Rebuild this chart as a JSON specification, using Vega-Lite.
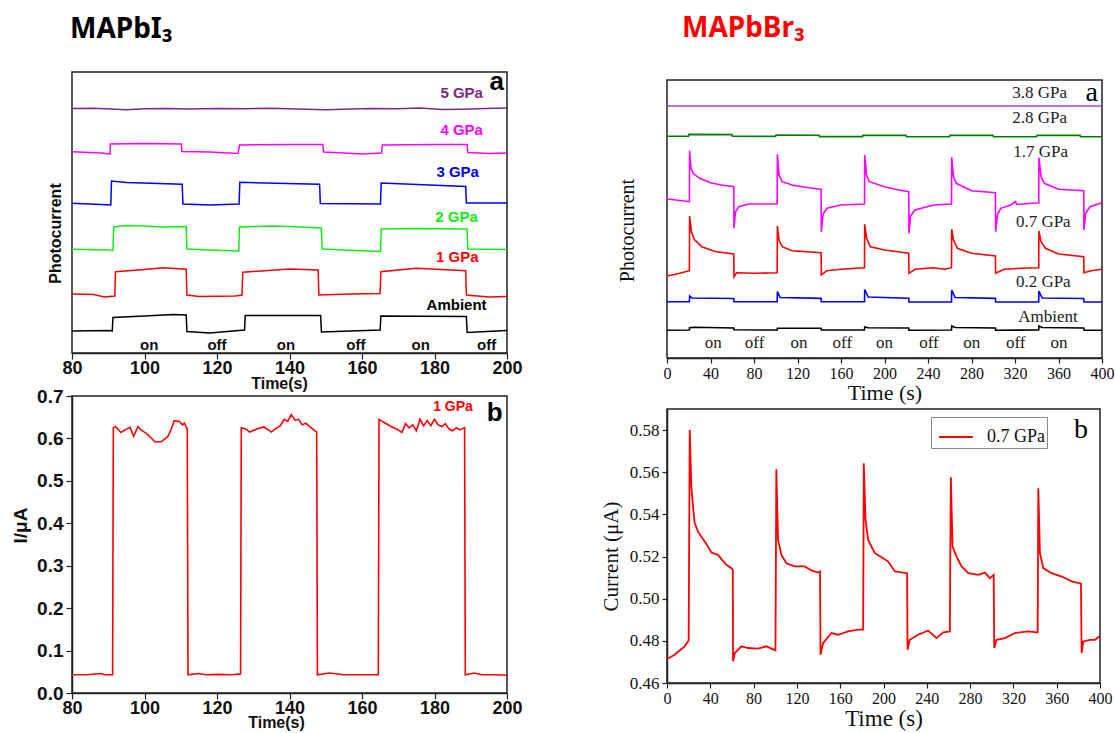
{
"$schema": "https://vega.github.io/schema/vega-lite/v6.json",
"background": "white",
"padding": {"left": 10, "top": 14, "right": 0, "bottom": 0},
"config": {"view": {"stroke": "#222", "strokeWidth": 1.5}, "axis": {"grid": false, "domainColor": "#222", "tickColor": "#222", "labelColor": "#111", "titleColor": "#111", "domainWidth": 1.5, "tickWidth": 1.2}},
"resolve": {"scale": {"x": "independent", "y": "independent", "color": "independent"}},
"spacing": 76,
"datasets": {
"tl": [
{"s":"5 GPa","t":80,"v":244.5},{"s":"5 GPa","t":86,"v":244.8},{"s":"5 GPa","t":92,"v":243.8},{"s":"5 GPa","t":95,"v":243.2},{"s":"5 GPa","t":100,"v":244.3},{"s":"5 GPa","t":106,"v":244.6},{"s":"5 GPa","t":112,"v":244},{"s":"5 GPa","t":120,"v":244.6},{"s":"5 GPa","t":128,"v":244.2},{"s":"5 GPa","t":135,"v":244.8},{"s":"5 GPa","t":142,"v":244.1},{"s":"5 GPa","t":150,"v":243.2},{"s":"5 GPa","t":157,"v":244},{"s":"5 GPa","t":163,"v":244.6},{"s":"5 GPa","t":170,"v":244.2},{"s":"5 GPa","t":176,"v":244.9},{"s":"5 GPa","t":182,"v":243.6},{"s":"5 GPa","t":188,"v":243.8},{"s":"5 GPa","t":194,"v":244.4},{"s":"5 GPa","t":200,"v":245},
{"s":"4 GPa","t":80,"v":201.3},{"s":"4 GPa","t":88,"v":200},{"s":"4 GPa","t":90.5,"v":199},{"s":"4 GPa","t":90.6,"v":209},{"s":"4 GPa","t":100,"v":209.5},{"s":"4 GPa","t":110.2,"v":209},{"s":"4 GPa","t":110.3,"v":201.5},{"s":"4 GPa","t":118,"v":201},{"s":"4 GPa","t":125.8,"v":199.5},{"s":"4 GPa","t":126.2,"v":208},{"s":"4 GPa","t":140,"v":208.5},{"s":"4 GPa","t":149.2,"v":208.5},{"s":"4 GPa","t":149.4,"v":201},{"s":"4 GPa","t":155,"v":200},{"s":"4 GPa","t":160,"v":199},{"s":"4 GPa","t":165.4,"v":200},{"s":"4 GPa","t":165.6,"v":208},{"s":"4 GPa","t":180,"v":208.5},{"s":"4 GPa","t":189,"v":208.5},{"s":"4 GPa","t":189.2,"v":200.5},{"s":"4 GPa","t":195,"v":199.5},{"s":"4 GPa","t":200,"v":200},
{"s":"3 GPa","t":80,"v":149.7},{"s":"3 GPa","t":88,"v":148.5},{"s":"3 GPa","t":90.7,"v":148},{"s":"3 GPa","t":90.9,"v":172},{"s":"3 GPa","t":95,"v":170.5},{"s":"3 GPa","t":110.4,"v":168.7},{"s":"3 GPa","t":110.6,"v":149},{"s":"3 GPa","t":118,"v":148},{"s":"3 GPa","t":126.1,"v":149},{"s":"3 GPa","t":126.3,"v":170.7},{"s":"3 GPa","t":148.3,"v":168.7},{"s":"3 GPa","t":148.5,"v":149.5},{"s":"3 GPa","t":165.1,"v":149},{"s":"3 GPa","t":165.3,"v":170},{"s":"3 GPa","t":188.6,"v":166.5},{"s":"3 GPa","t":188.8,"v":150},{"s":"3 GPa","t":200,"v":150},
{"s":"2 GPa","t":80,"v":103.7},{"s":"2 GPa","t":90,"v":103},{"s":"2 GPa","t":91.3,"v":102.5},{"s":"2 GPa","t":91.5,"v":126},{"s":"2 GPa","t":95,"v":127.5},{"s":"2 GPa","t":100,"v":127},{"s":"2 GPa","t":105,"v":126},{"s":"2 GPa","t":111.5,"v":126.5},{"s":"2 GPa","t":111.7,"v":104},{"s":"2 GPa","t":118,"v":103},{"s":"2 GPa","t":126,"v":102},{"s":"2 GPa","t":126.2,"v":126},{"s":"2 GPa","t":135,"v":127},{"s":"2 GPa","t":140,"v":126.5},{"s":"2 GPa","t":148.8,"v":125},{"s":"2 GPa","t":149,"v":104},{"s":"2 GPa","t":155,"v":103},{"s":"2 GPa","t":165.1,"v":101.5},{"s":"2 GPa","t":165.3,"v":124},{"s":"2 GPa","t":175,"v":124.5},{"s":"2 GPa","t":189,"v":124},{"s":"2 GPa","t":189.2,"v":104},{"s":"2 GPa","t":200,"v":103.5},
{"s":"1 GPa","t":80,"v":59},{"s":"1 GPa","t":86,"v":58.5},{"s":"1 GPa","t":89,"v":56},{"s":"1 GPa","t":91.8,"v":57},{"s":"1 GPa","t":92,"v":81.3},{"s":"1 GPa","t":100,"v":83.5},{"s":"1 GPa","t":105,"v":85.3},{"s":"1 GPa","t":111.5,"v":83.7},{"s":"1 GPa","t":111.7,"v":58},{"s":"1 GPa","t":115,"v":56.5},{"s":"1 GPa","t":125,"v":57},{"s":"1 GPa","t":126.9,"v":58},{"s":"1 GPa","t":127.1,"v":80.7},{"s":"1 GPa","t":140,"v":84},{"s":"1 GPa","t":147.9,"v":83},{"s":"1 GPa","t":148.1,"v":58},{"s":"1 GPa","t":157,"v":59},{"s":"1 GPa","t":165,"v":59.5},{"s":"1 GPa","t":165.2,"v":81.3},{"s":"1 GPa","t":175,"v":84.7},{"s":"1 GPa","t":188.6,"v":82.3},{"s":"1 GPa","t":188.8,"v":58},{"s":"1 GPa","t":195,"v":56},{"s":"1 GPa","t":200,"v":56.5},
{"s":"Ambient","t":80,"v":22},{"s":"Ambient","t":90,"v":22.5},{"s":"Ambient","t":91.1,"v":22},{"s":"Ambient","t":91.3,"v":35.5},{"s":"Ambient","t":100,"v":37},{"s":"Ambient","t":108,"v":38.5},{"s":"Ambient","t":111.5,"v":38},{"s":"Ambient","t":111.7,"v":21.5},{"s":"Ambient","t":118,"v":20},{"s":"Ambient","t":127.6,"v":23},{"s":"Ambient","t":127.8,"v":37.5},{"s":"Ambient","t":148.6,"v":37.5},{"s":"Ambient","t":148.8,"v":21},{"s":"Ambient","t":165,"v":23},{"s":"Ambient","t":165.2,"v":37},{"s":"Ambient","t":188.8,"v":36.5},{"s":"Ambient","t":189,"v":20.5},{"s":"Ambient","t":200,"v":22.5}
],
"tllab": [
{"s":"5 GPa","t":187.5,"v":260.3},{"s":"4 GPa","t":187.5,"v":223},{"s":"3 GPa","t":186.4,"v":181.3},{"s":"2 GPa","t":186.1,"v":136.3},{"s":"1 GPa","t":186.3,"v":95.7},{"s":"Ambient","t":186.1,"v":48}
],
"tlnote": [
{"label":"on","t":101.3,"v":8},{"label":"off","t":120,"v":8},{"label":"on","t":139,"v":8},{"label":"off","t":158.3,"v":8},{"label":"on","t":176.2,"v":8},{"label":"off","t":194.4,"v":8}
],
"bl": [
{"t":80,"i":0.043},{"t":84,"i":0.043},{"t":88,"i":0.046},{"t":89,"i":0.043},{"t":91.2,"i":0.043},{"t":91.4,"i":0.625},{"t":92,"i":0.628},{"t":93.5,"i":0.614},{"t":95,"i":0.622},{"t":96,"i":0.626},{"t":97,"i":0.605},{"t":98.2,"i":0.628},{"t":99,"i":0.62},{"t":100.5,"i":0.612},{"t":102,"i":0.6},{"t":102.8,"i":0.592},{"t":104.6,"i":0.592},{"t":106.4,"i":0.604},{"t":107.3,"i":0.62},{"t":108.2,"i":0.642},{"t":109.6,"i":0.64},{"t":110.5,"i":0.632},{"t":111,"i":0.636},{"t":111.8,"i":0.622},{"t":112,"i":0.043},{"t":115,"i":0.046},{"t":117,"i":0.043},{"t":120,"i":0.044},{"t":124,"i":0.043},{"t":126.5,"i":0.045},{"t":126.7,"i":0.625},{"t":128,"i":0.622},{"t":129,"i":0.615},{"t":131,"i":0.622},{"t":133,"i":0.627},{"t":135,"i":0.615},{"t":136,"i":0.622},{"t":137.5,"i":0.63},{"t":138.5,"i":0.645},{"t":139.5,"i":0.64},{"t":140.5,"i":0.656},{"t":141.5,"i":0.643},{"t":142.5,"i":0.645},{"t":143.5,"i":0.632},{"t":144.5,"i":0.636},{"t":146,"i":0.625},{"t":147.5,"i":0.615},{"t":147.7,"i":0.043},{"t":151,"i":0.047},{"t":155,"i":0.043},{"t":160,"i":0.043},{"t":164.5,"i":0.043},{"t":164.7,"i":0.645},{"t":166,"i":0.638},{"t":168,"i":0.628},{"t":170,"i":0.62},{"t":171,"i":0.614},{"t":172,"i":0.635},{"t":173,"i":0.625},{"t":174,"i":0.632},{"t":175,"i":0.618},{"t":176,"i":0.645},{"t":177,"i":0.63},{"t":178,"i":0.642},{"t":179,"i":0.63},{"t":180,"i":0.645},{"t":181,"i":0.632},{"t":182,"i":0.628},{"t":183,"i":0.635},{"t":184,"i":0.622},{"t":185,"i":0.618},{"t":186,"i":0.625},{"t":187,"i":0.62},{"t":188.3,"i":0.625},{"t":188.5,"i":0.043},{"t":191,"i":0.047},{"t":193,"i":0.043},{"t":197,"i":0.043},{"t":200,"i":0.042}
],
"blnote": [
{"label":"1 GPa","t":185.1,"i":0.675}
],
"blb": [
{"label":"b","t":196.6,"i":0.66}
],
"tr": [
{"s":"3.8 GPa","t":0,"v":252},{"s":"3.8 GPa","t":100,"v":252},{"s":"3.8 GPa","t":200,"v":252},{"s":"3.8 GPa","t":300,"v":252},{"s":"3.8 GPa","t":400,"v":252},
{"s":"2.8 GPa","t":0,"v":221.8},{"s":"2.8 GPa","t":19.8,"v":221.8},{"s":"2.8 GPa","t":20.2,"v":223.6},{"s":"2.8 GPa","t":59.8,"v":223.4},{"s":"2.8 GPa","t":60.2,"v":221.8},{"s":"2.8 GPa","t":99.8,"v":221.6},{"s":"2.8 GPa","t":100.2,"v":223},{"s":"2.8 GPa","t":139.8,"v":222.8},{"s":"2.8 GPa","t":140.2,"v":221.4},{"s":"2.8 GPa","t":179.8,"v":221.4},{"s":"2.8 GPa","t":180.2,"v":222.8},{"s":"2.8 GPa","t":219.8,"v":222.6},{"s":"2.8 GPa","t":220.2,"v":221.3},{"s":"2.8 GPa","t":259.8,"v":221.3},{"s":"2.8 GPa","t":260.2,"v":222.8},{"s":"2.8 GPa","t":299.8,"v":222.6},{"s":"2.8 GPa","t":300.2,"v":221.3},{"s":"2.8 GPa","t":339.8,"v":221.3},{"s":"2.8 GPa","t":340.2,"v":222.8},{"s":"2.8 GPa","t":379.8,"v":222.6},{"s":"2.8 GPa","t":380.2,"v":221.2},{"s":"2.8 GPa","t":400,"v":221.2},
{"s":"1.7 GPa","t":0,"v":159},{"s":"1.7 GPa","t":10,"v":157.7},{"s":"1.7 GPa","t":20.6,"v":156.3},{"s":"1.7 GPa","t":20.8,"v":207.3},{"s":"1.7 GPa","t":22,"v":190},{"s":"1.7 GPa","t":24,"v":184.7},{"s":"1.7 GPa","t":30,"v":179.7},{"s":"1.7 GPa","t":40,"v":175.3},{"s":"1.7 GPa","t":50,"v":173},{"s":"1.7 GPa","t":61.4,"v":171.3},{"s":"1.7 GPa","t":61.6,"v":129.7},{"s":"1.7 GPa","t":63,"v":146},{"s":"1.7 GPa","t":66,"v":151.3},{"s":"1.7 GPa","t":75,"v":154},{"s":"1.7 GPa","t":101.3,"v":154},{"s":"1.7 GPa","t":101.5,"v":203.7},{"s":"1.7 GPa","t":103,"v":183},{"s":"1.7 GPa","t":106,"v":176.3},{"s":"1.7 GPa","t":115,"v":173},{"s":"1.7 GPa","t":130,"v":170.3},{"s":"1.7 GPa","t":141.7,"v":168.7},{"s":"1.7 GPa","t":141.9,"v":126.3},{"s":"1.7 GPa","t":143.5,"v":144},{"s":"1.7 GPa","t":147,"v":149.7},{"s":"1.7 GPa","t":160,"v":153},{"s":"1.7 GPa","t":181.6,"v":154},{"s":"1.7 GPa","t":181.8,"v":203},{"s":"1.7 GPa","t":183.5,"v":183},{"s":"1.7 GPa","t":186,"v":176.3},{"s":"1.7 GPa","t":200,"v":171.3},{"s":"1.7 GPa","t":210,"v":168.7},{"s":"1.7 GPa","t":222.3,"v":166.3},{"s":"1.7 GPa","t":222.5,"v":124.7},{"s":"1.7 GPa","t":224,"v":142},{"s":"1.7 GPa","t":228,"v":148},{"s":"1.7 GPa","t":245,"v":153},{"s":"1.7 GPa","t":261.6,"v":154},{"s":"1.7 GPa","t":261.8,"v":200.7},{"s":"1.7 GPa","t":263.5,"v":181},{"s":"1.7 GPa","t":266,"v":174.7},{"s":"1.7 GPa","t":280,"v":167.3},{"s":"1.7 GPa","t":302,"v":165.3},{"s":"1.7 GPa","t":302.2,"v":126.3},{"s":"1.7 GPa","t":304,"v":144},{"s":"1.7 GPa","t":307,"v":149.7},{"s":"1.7 GPa","t":316,"v":153},{"s":"1.7 GPa","t":320.5,"v":156.5},{"s":"1.7 GPa","t":321.5,"v":153.5},{"s":"1.7 GPa","t":341.8,"v":155.3},{"s":"1.7 GPa","t":342,"v":200.3},{"s":"1.7 GPa","t":344,"v":181},{"s":"1.7 GPa","t":347,"v":174.7},{"s":"1.7 GPa","t":360,"v":168.7},{"s":"1.7 GPa","t":383.2,"v":167.3},{"s":"1.7 GPa","t":383.4,"v":128},{"s":"1.7 GPa","t":385,"v":145},{"s":"1.7 GPa","t":389,"v":151.3},{"s":"1.7 GPa","t":400,"v":155.3},
{"s":"0.7 GPa","t":0,"v":82},{"s":"0.7 GPa","t":10,"v":84.3},{"s":"0.7 GPa","t":20.6,"v":87.3},{"s":"0.7 GPa","t":20.8,"v":142},{"s":"0.7 GPa","t":22.5,"v":126},{"s":"0.7 GPa","t":25,"v":118.7},{"s":"0.7 GPa","t":32,"v":111.3},{"s":"0.7 GPa","t":45,"v":106.3},{"s":"0.7 GPa","t":61.4,"v":104},{"s":"0.7 GPa","t":61.6,"v":81.3},{"s":"0.7 GPa","t":64,"v":85.3},{"s":"0.7 GPa","t":80,"v":84.7},{"s":"0.7 GPa","t":101.3,"v":85.3},{"s":"0.7 GPa","t":101.5,"v":132},{"s":"0.7 GPa","t":103,"v":118},{"s":"0.7 GPa","t":106,"v":111.3},{"s":"0.7 GPa","t":115,"v":107.3},{"s":"0.7 GPa","t":141.7,"v":105.3},{"s":"0.7 GPa","t":141.9,"v":83},{"s":"0.7 GPa","t":147,"v":87.3},{"s":"0.7 GPa","t":160,"v":88.7},{"s":"0.7 GPa","t":181.6,"v":90.3},{"s":"0.7 GPa","t":181.8,"v":133.7},{"s":"0.7 GPa","t":183.5,"v":120},{"s":"0.7 GPa","t":187,"v":111.3},{"s":"0.7 GPa","t":200,"v":108},{"s":"0.7 GPa","t":222.3,"v":104.7},{"s":"0.7 GPa","t":222.5,"v":84.7},{"s":"0.7 GPa","t":228,"v":88.7},{"s":"0.7 GPa","t":245,"v":90.3},{"s":"0.7 GPa","t":255,"v":88.7},{"s":"0.7 GPa","t":261.6,"v":90.3},{"s":"0.7 GPa","t":261.8,"v":128.7},{"s":"0.7 GPa","t":263.5,"v":118},{"s":"0.7 GPa","t":267,"v":109.7},{"s":"0.7 GPa","t":280,"v":104.7},{"s":"0.7 GPa","t":302,"v":102},{"s":"0.7 GPa","t":302.2,"v":84.7},{"s":"0.7 GPa","t":310,"v":88.7},{"s":"0.7 GPa","t":325,"v":89.7},{"s":"0.7 GPa","t":341.8,"v":90.3},{"s":"0.7 GPa","t":342,"v":127},{"s":"0.7 GPa","t":344,"v":116},{"s":"0.7 GPa","t":348,"v":109.7},{"s":"0.7 GPa","t":360,"v":104},{"s":"0.7 GPa","t":383.2,"v":101.3},{"s":"0.7 GPa","t":383.4,"v":85.3},{"s":"0.7 GPa","t":390,"v":87.3},{"s":"0.7 GPa","t":400,"v":88.7},
{"s":"0.2 GPa","t":0,"v":56.3},{"s":"0.2 GPa","t":20.6,"v":56.3},{"s":"0.2 GPa","t":20.8,"v":62},{"s":"0.2 GPa","t":23,"v":60},{"s":"0.2 GPa","t":61.4,"v":59.5},{"s":"0.2 GPa","t":61.6,"v":56.2},{"s":"0.2 GPa","t":101.3,"v":56.2},{"s":"0.2 GPa","t":101.5,"v":66.5},{"s":"0.2 GPa","t":104,"v":60.5},{"s":"0.2 GPa","t":141.7,"v":59.6},{"s":"0.2 GPa","t":141.9,"v":56.2},{"s":"0.2 GPa","t":181.6,"v":56.2},{"s":"0.2 GPa","t":181.8,"v":68.5},{"s":"0.2 GPa","t":185,"v":61},{"s":"0.2 GPa","t":222.3,"v":59.8},{"s":"0.2 GPa","t":222.5,"v":56},{"s":"0.2 GPa","t":261.6,"v":56},{"s":"0.2 GPa","t":261.8,"v":68},{"s":"0.2 GPa","t":265,"v":60.5},{"s":"0.2 GPa","t":302,"v":59.6},{"s":"0.2 GPa","t":302.2,"v":56},{"s":"0.2 GPa","t":341.8,"v":56},{"s":"0.2 GPa","t":342,"v":67},{"s":"0.2 GPa","t":345,"v":60},{"s":"0.2 GPa","t":383.2,"v":59.5},{"s":"0.2 GPa","t":383.4,"v":56},{"s":"0.2 GPa","t":400,"v":56},
{"s":"Ambient","t":0,"v":27.8},{"s":"Ambient","t":20.6,"v":28},{"s":"Ambient","t":20.8,"v":30.2},{"s":"Ambient","t":25,"v":30.8},{"s":"Ambient","t":61.4,"v":30},{"s":"Ambient","t":61.6,"v":28.2},{"s":"Ambient","t":101.3,"v":28},{"s":"Ambient","t":101.5,"v":29.8},{"s":"Ambient","t":141.7,"v":29.8},{"s":"Ambient","t":141.9,"v":28},{"s":"Ambient","t":181.6,"v":28},{"s":"Ambient","t":181.8,"v":31},{"s":"Ambient","t":185,"v":30.2},{"s":"Ambient","t":222.3,"v":30},{"s":"Ambient","t":222.5,"v":27.8},{"s":"Ambient","t":261.6,"v":28},{"s":"Ambient","t":261.8,"v":32},{"s":"Ambient","t":265,"v":30.5},{"s":"Ambient","t":302,"v":30},{"s":"Ambient","t":302.2,"v":27.8},{"s":"Ambient","t":341.8,"v":28},{"s":"Ambient","t":342,"v":32},{"s":"Ambient","t":345,"v":30.5},{"s":"Ambient","t":383.2,"v":30},{"s":"Ambient","t":383.4,"v":27.8},{"s":"Ambient","t":400,"v":27.8}
],
"trlab": [
{"label":"3.8 GPa","t":342.7,"v":264.7},{"label":"2.8 GPa","t":342.7,"v":239.7},{"label":"1.7 GPa","t":343.6,"v":205.7},{"label":"0.7 GPa","t":346,"v":136.3},{"label":"0.2 GPa","t":346,"v":76.3},{"label":"Ambient","t":350.3,"v":41.3},
{"label":"on","t":42.6,"v":15.3},{"label":"off","t":80.5,"v":15.3},{"label":"on","t":121.4,"v":15.3},{"label":"off","t":161.2,"v":15.3},{"label":"on","t":200.1,"v":15.3},{"label":"off","t":240.9,"v":15.3},{"label":"on","t":280.2,"v":15.3},{"label":"off","t":320.6,"v":15.3},{"label":"on","t":360.5,"v":15.3}
],
"br": [
{"s":"0.7 GPa","t":0,"c":0.4714},{"s":"0.7 GPa","t":7,"c":0.4734},{"s":"0.7 GPa","t":16.3,"c":0.4774},{"s":"0.7 GPa","t":20,"c":0.4802},{"s":"0.7 GPa","t":21,"c":0.58},{"s":"0.7 GPa","t":22.5,"c":0.5532},{"s":"0.7 GPa","t":24,"c":0.5437},{"s":"0.7 GPa","t":25.6,"c":0.5358},{"s":"0.7 GPa","t":28.7,"c":0.5318},{"s":"0.7 GPa","t":34.8,"c":0.5271},{"s":"0.7 GPa","t":37.9,"c":0.5247},{"s":"0.7 GPa","t":41,"c":0.5219},{"s":"0.7 GPa","t":47.1,"c":0.5208},{"s":"0.7 GPa","t":50.8,"c":0.5184},{"s":"0.7 GPa","t":54.9,"c":0.5161},{"s":"0.7 GPa","t":59.5,"c":0.5145},{"s":"0.7 GPa","t":60.8,"c":0.5137},{"s":"0.7 GPa","t":61,"c":0.4703},{"s":"0.7 GPa","t":62.6,"c":0.4742},{"s":"0.7 GPa","t":68.7,"c":0.4774},{"s":"0.7 GPa","t":74.9,"c":0.4766},{"s":"0.7 GPa","t":84.1,"c":0.4763},{"s":"0.7 GPa","t":91.8,"c":0.4774},{"s":"0.7 GPa","t":100.2,"c":0.4755},{"s":"0.7 GPa","t":101,"c":0.5614},{"s":"0.7 GPa","t":102.6,"c":0.5279},{"s":"0.7 GPa","t":105.7,"c":0.5208},{"s":"0.7 GPa","t":110.3,"c":0.5168},{"s":"0.7 GPa","t":118,"c":0.5153},{"s":"0.7 GPa","t":127.3,"c":0.5153},{"s":"0.7 GPa","t":133.4,"c":0.5134},{"s":"0.7 GPa","t":139.6,"c":0.5124},{"s":"0.7 GPa","t":141.4,"c":0.5129},{"s":"0.7 GPa","t":141.8,"c":0.4734},{"s":"0.7 GPa","t":144.2,"c":0.4789},{"s":"0.7 GPa","t":151.9,"c":0.4837},{"s":"0.7 GPa","t":158.1,"c":0.4829},{"s":"0.7 GPa","t":167.3,"c":0.4845},{"s":"0.7 GPa","t":176.6,"c":0.4853},{"s":"0.7 GPa","t":181.2,"c":0.4853},{"s":"0.7 GPa","t":181.8,"c":0.5642},{"s":"0.7 GPa","t":183.4,"c":0.5374},{"s":"0.7 GPa","t":185.8,"c":0.5279},{"s":"0.7 GPa","t":192,"c":0.5216},{"s":"0.7 GPa","t":198.2,"c":0.5197},{"s":"0.7 GPa","t":204.3,"c":0.5176},{"s":"0.7 GPa","t":210.5,"c":0.5129},{"s":"0.7 GPa","t":221.8,"c":0.5121},{"s":"0.7 GPa","t":222.2,"c":0.4758},{"s":"0.7 GPa","t":224.3,"c":0.4805},{"s":"0.7 GPa","t":232,"c":0.4829},{"s":"0.7 GPa","t":241.3,"c":0.4849},{"s":"0.7 GPa","t":249,"c":0.4813},{"s":"0.7 GPa","t":255.2,"c":0.484},{"s":"0.7 GPa","t":261.3,"c":0.4845},{"s":"0.7 GPa","t":262.2,"c":0.5576},{"s":"0.7 GPa","t":263.8,"c":0.5247},{"s":"0.7 GPa","t":267.5,"c":0.52},{"s":"0.7 GPa","t":272.1,"c":0.5153},{"s":"0.7 GPa","t":278.3,"c":0.5121},{"s":"0.7 GPa","t":287.5,"c":0.5113},{"s":"0.7 GPa","t":293.7,"c":0.5124},{"s":"0.7 GPa","t":298.3,"c":0.5097},{"s":"0.7 GPa","t":301.8,"c":0.5113},{"s":"0.7 GPa","t":302.3,"c":0.4766},{"s":"0.7 GPa","t":304.5,"c":0.4805},{"s":"0.7 GPa","t":312.2,"c":0.4813},{"s":"0.7 GPa","t":321.4,"c":0.4837},{"s":"0.7 GPa","t":333.7,"c":0.4845},{"s":"0.7 GPa","t":342.4,"c":0.484},{"s":"0.7 GPa","t":343,"c":0.5524},{"s":"0.7 GPa","t":344.5,"c":0.5216},{"s":"0.7 GPa","t":347.6,"c":0.5145},{"s":"0.7 GPa","t":355.3,"c":0.5121},{"s":"0.7 GPa","t":364.6,"c":0.5105},{"s":"0.7 GPa","t":373.8,"c":0.5082},{"s":"0.7 GPa","t":382.4,"c":0.5071},{"s":"0.7 GPa","t":383,"c":0.4742},{"s":"0.7 GPa","t":384.6,"c":0.4797},{"s":"0.7 GPa","t":390.8,"c":0.4805},{"s":"0.7 GPa","t":395.4,"c":0.4805},{"s":"0.7 GPa","t":399.4,"c":0.4821}
],
"brb": [
{"label":"b","t":382.4,"c":0.58}
]
},
"hconcat": [
{
"bounds": "flush",
"spacing": 43,
"resolve": {"scale": {"x": "independent", "y": "independent", "color": "independent"}},
"vconcat": [
{
"width": 435, "height": 281,
"title": {"text": "MAPbI₃", "anchor": "start", "frame": "group", "font": "Noto Sans", "fontSize": 28, "fontWeight": "bold", "color": "#000", "baseline": "alphabetic", "offset": 3, "dx": -2},
"layer": [
{"data": {"name": "tl"}, "mark": {"type": "line", "strokeWidth": 1.5},
"encoding": {
"x": {"field": "t", "type": "quantitative", "scale": {"domain": [80, 200], "nice": false, "zero": false},
"axis": {"values": [80,85,90,95,100,105,110,115,120,125,130,135,140,145,150,155,160,165,170,175,180,185,190,195,200], "labelExpr": "datum.value % 20 === 0 ? datum.label : ''", "tickSize": {"condition": {"test": "datum.value % 20 === 0", "value": 6}, "value": 4}, "labelFont": "Liberation Sans", "labelFontWeight": "bold", "labelFontSize": 18, "labelPadding": 0, "labelFlush": false, "title": "Time(s)", "titleFont": "Liberation Sans", "titleFontWeight": "bold", "titleFontSize": 16, "titlePadding": -2, "titleX": 207}},
"y": {"field": "v", "type": "quantitative", "scale": {"domain": [0, 281], "nice": false, "zero": false},
"axis": {"ticks": false, "labels": false, "domain": false, "title": "Photocurrent", "titleFont": "Liberation Sans", "titleFontWeight": "bold", "titleFontSize": 16, "titlePadding": 9, "titleY": 161}},
"color": {"field": "s", "type": "nominal", "scale": {"domain": ["5 GPa","4 GPa","3 GPa","2 GPa","1 GPa","Ambient"], "range": ["#7D2A85","#FF00FF","#0000FF","#11EE11","#FF0000","#000000"]}, "legend": null},
"order": {"value": null}
}},
{"data": {"name": "tllab"}, "mark": {"type": "text", "font": "Liberation Sans", "fontWeight": "bold", "fontSize": 15, "align": "center", "baseline": "middle"},
"encoding": {
"x": {"field": "t", "type": "quantitative"},
"y": {"field": "v", "type": "quantitative"},
"text": {"field": "s"},
"color": {"field": "s", "type": "nominal", "legend": null}
}},
{"data": {"name": "tlnote"}, "mark": {"type": "text", "font": "Liberation Sans", "fontWeight": "bold", "fontSize": 15, "align": "center", "baseline": "middle", "color": "#111"},
"encoding": {
"x": {"field": "t", "type": "quantitative"},
"y": {"field": "v", "type": "quantitative"},
"text": {"field": "label"}
}},
{"data": {"values": [{"label": "a", "t": 197.2, "v": 271.3}]}, "mark": {"type": "text", "font": "Liberation Sans", "fontWeight": "bold", "fontSize": 26, "align": "center", "baseline": "middle", "color": "#000"},
"encoding": {
"x": {"field": "t", "type": "quantitative"},
"y": {"field": "v", "type": "quantitative"},
"text": {"field": "label"}
}}
]
},
{
"width": 435, "height": 297,
"layer": [
{"data": {"name": "bl"}, "mark": {"type": "line", "strokeWidth": 1.6, "color": "#FF0000"},
"encoding": {
"x": {"field": "t", "type": "quantitative", "scale": {"domain": [80, 200], "nice": false, "zero": false},
"axis": {"values": [80,85,90,95,100,105,110,115,120,125,130,135,140,145,150,155,160,165,170,175,180,185,190,195,200], "labelExpr": "datum.value % 20 === 0 ? datum.label : ''", "tickSize": {"condition": {"test": "datum.value % 20 === 0", "value": 6}, "value": 4}, "labelFont": "Liberation Sans", "labelFontWeight": "bold", "labelFontSize": 18, "labelPadding": 0, "labelFlush": false, "title": "Time(s)", "titleFont": "Liberation Sans", "titleFontWeight": "bold", "titleFontSize": 16, "titlePadding": -3, "titleX": 204}},
"y": {"field": "i", "type": "quantitative", "scale": {"domain": [0, 0.7], "nice": false, "zero": false},
"axis": {"values": [0,0.05,0.1,0.15,0.2,0.25,0.3,0.35,0.4,0.45,0.5,0.55,0.6,0.65,0.7], "labelExpr": "round(datum.value*100) % 10 === 0 ? format(datum.value, '.1f') : ''", "tickSize": {"condition": {"test": "round(datum.value*100) % 10 === 0", "value": 6}, "value": 4}, "labelFont": "Liberation Sans", "labelFontWeight": "bold", "labelFontSize": 19, "labelPadding": 3, "title": "I/μA", "titleFont": "Liberation Sans", "titleFontWeight": "bold", "titleFontSize": 19, "titlePadding": 6, "titleY": 129}},
"order": {"value": null}
}},
{"data": {"name": "blnote"}, "mark": {"type": "text", "font": "Liberation Sans", "fontWeight": "bold", "fontSize": 14, "align": "center", "baseline": "middle", "color": "#FF0000"},
"encoding": {
"x": {"field": "t", "type": "quantitative"},
"y": {"field": "i", "type": "quantitative"},
"text": {"field": "label"}
}},
{"data": {"name": "blb"}, "mark": {"type": "text", "font": "Liberation Sans", "fontWeight": "bold", "fontSize": 26, "align": "center", "baseline": "middle", "color": "#000"},
"encoding": {
"x": {"field": "t", "type": "quantitative"},
"y": {"field": "i", "type": "quantitative"},
"text": {"field": "label"}
}}
]
}
]
},
{
"bounds": "flush",
"spacing": 0,
"resolve": {"scale": {"x": "independent", "y": "independent", "color": "independent"}},
"vconcat": [
{"width": 435, "height": 8, "data": {"values": []}, "mark": "point", "view": {"stroke": null}},
{
"bounds": "flush",
"spacing": 51,
"resolve": {"scale": {"x": "independent", "y": "independent", "color": "independent"}},
"vconcat": [
{
"width": 435, "height": 278,
"title": {"text": "MAPbBr₃", "anchor": "start", "frame": "group", "font": "Noto Sans", "fontSize": 28, "fontWeight": "bold", "color": "#FF0000", "baseline": "alphabetic", "offset": 14, "dx": 15},
"layer": [
{"data": {"name": "tr"}, "mark": {"type": "line", "strokeWidth": 1.6},
"encoding": {
"x": {"field": "t", "type": "quantitative", "scale": {"domain": [0, 400], "nice": false, "zero": false},
"axis": {"values": [0,20,40,60,80,100,120,140,160,180,200,220,240,260,280,300,320,340,360,380,400], "labelExpr": "datum.value % 40 === 0 ? datum.label : ''", "tickSize": {"condition": {"test": "datum.value % 40 === 0", "value": 5}, "value": 4}, "labelFont": "Liberation Serif", "labelFontSize": 16, "labelPadding": 2, "labelFlush": false, "title": "Time (s)", "titleFont": "Liberation Serif", "titleFontWeight": "normal", "titleFontSize": 22, "titlePadding": 1}},
"y": {"field": "v", "type": "quantitative", "scale": {"domain": [0, 278], "nice": false, "zero": false},
"axis": {"ticks": false, "labels": false, "domain": false, "title": "Photocurrent", "titleFont": "Liberation Serif", "titleFontWeight": "normal", "titleFontSize": 20, "titlePadding": 30, "titleY": 150}},
"color": {"field": "s", "type": "nominal", "scale": {"domain": ["3.8 GPa","2.8 GPa","1.7 GPa","0.7 GPa","0.2 GPa","Ambient"], "range": ["#A040F0","#008000","#FF00FF","#FF0000","#0000FF","#000000"]}, "legend": null},
"order": {"value": null}
}},
{"data": {"name": "trlab"}, "mark": {"type": "text", "font": "Liberation Serif", "fontSize": 17, "align": "center", "baseline": "middle", "color": "#222"},
"encoding": {
"x": {"field": "t", "type": "quantitative"},
"y": {"field": "v", "type": "quantitative"},
"text": {"field": "label"}
}},
{"data": {"values": [{"label": "a", "t": 390.5, "v": 265}]}, "mark": {"type": "text", "font": "Liberation Serif", "fontSize": 28, "align": "center", "baseline": "middle", "color": "#000"},
"encoding": {
"x": {"field": "t", "type": "quantitative"},
"y": {"field": "v", "type": "quantitative"},
"text": {"field": "label"}
}}
]
},
{
"width": 433, "height": 274,
"layer": [
{"data": {"name": "br"}, "mark": {"type": "line", "strokeWidth": 1.8},
"encoding": {
"x": {"field": "t", "type": "quantitative", "scale": {"domain": [0, 400], "nice": false, "zero": false},
"axis": {"values": [0,20,40,60,80,100,120,140,160,180,200,220,240,260,280,300,320,340,360,380,400], "labelExpr": "datum.value % 40 === 0 ? datum.label : ''", "tickSize": {"condition": {"test": "datum.value % 40 === 0", "value": 5}, "value": 4}, "labelFont": "Liberation Serif", "labelFontSize": 16, "labelPadding": 2, "labelFlush": false, "title": "Time (s)", "titleFont": "Liberation Serif", "titleFontWeight": "normal", "titleFontSize": 23, "titlePadding": 1}},
"y": {"field": "c", "type": "quantitative", "scale": {"domain": [0.46, 0.59], "nice": false, "zero": false},
"axis": {"values": [0.46,0.47,0.48,0.49,0.5,0.51,0.52,0.53,0.54,0.55,0.56,0.57,0.58,0.59], "labelExpr": "round(datum.value*100) % 2 === 0 && datum.value < 0.585 ? format(datum.value, '.2f') : ''", "tickSize": {"condition": {"test": "round(datum.value*100) % 2 === 0", "value": 5}, "value": 4}, "labelFont": "Liberation Serif", "labelFontSize": 17, "labelPadding": 3, "title": "Current (μA)", "titleFont": "Liberation Serif", "titleFontWeight": "normal", "titleFontSize": 21, "titlePadding": 8, "titleY": 147}},
"color": {"field": "s", "type": "nominal", "scale": {"domain": ["0.7 GPa"], "range": ["#FF0000"]},
"legend": {"orient": "none", "legendX": 264, "legendY": 8, "title": null, "symbolType": "M-1,0L1,0", "symbolSize": 1150, "symbolStrokeWidth": 2, "symbolOffset": 5, "labelFont": "Liberation Serif", "labelFontSize": 18, "labelColor": "#111", "labelOffset": 13, "strokeColor": "#888", "fillColor": "white", "padding": 2}},
"order": {"value": null}
}},
{"data": {"name": "brb"}, "mark": {"type": "text", "font": "Liberation Serif", "fontSize": 28, "align": "center", "baseline": "middle", "color": "#000"},
"encoding": {
"x": {"field": "t", "type": "quantitative"},
"y": {"field": "c", "type": "quantitative"},
"text": {"field": "label"}
}}
]
}
]
}
]
}
]
}
